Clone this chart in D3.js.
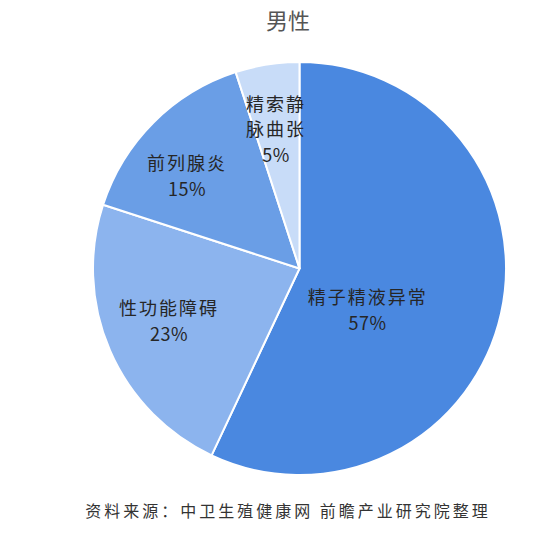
<!DOCTYPE html>
<html>
<head>
<meta charset="utf-8">
<script src="https://cdn.jsdelivr.net/npm/d3@7"></script>
<style>
  html, body { margin: 0; padding: 0; background: #fff; }
  svg { display: block; font-family: "Noto Sans CJK SC", "Noto Sans", sans-serif; }
</style>
</head>
<body>
<svg id="chart" width="557" height="543"></svg>
<script>
// Male infertility causes, share of cases
const categories = ["精子精液异常", "性功能障碍", "前列腺炎", "精索静脉曲张"];
const values = [57, 23, 15, 5];
const labelLines = [["精子精液异常"], ["性功能障碍"], ["前列腺炎"], ["精索静", "脉曲张"]];
const colors = ["#4a88e0", "#8cb4ee", "#6a9ee6", "#c8dcf8"];

const title = "男性";
const source = "资料来源：中卫生殖健康网 前瞻产业研究院整理";

// label block centres, in units of the pie radius from its centre
const labelAnchor = [[0.33, 0.197], [-0.632, 0.25], [-0.545, -0.453], [-0.114, -0.68]];

const svg = d3.select("#chart");
const cx = 299.5, cy = 268.5, r = 206.5;

svg.append("text")
  .attr("x", 288).attr("y", 19)
  .attr("text-anchor", "middle").attr("dominant-baseline", "central")
  .attr("font-size", 22).attr("fill", "#555")
  .text(title);

const pie = d3.pie().value(d => d).sort(null);
const arc = d3.arc().innerRadius(0).outerRadius(r);
const slices = pie(values);

const g = svg.append("g").attr("transform", `translate(${cx},${cy})`);

g.selectAll("path")
  .data(slices)
  .join("path")
  .attr("d", arc)
  .attr("fill", (d, i) => colors[i])
  .attr("stroke", "#fff")
  .attr("stroke-width", 2)
  .attr("stroke-linejoin", "round");

const lineH = 25.5;
slices.forEach((d, i) => {
  const lines = labelLines[i].concat([d.data + "%"]);
  const [fx, fy] = labelAnchor[i];
  const x = fx * r, y0 = fy * r - (lines.length - 1) * lineH / 2;
  const t = g.append("text")
    .attr("text-anchor", "middle")
    .attr("font-size", 18)
    .attr("fill", "#262626");
  lines.forEach((ln, k) => {
    t.append("tspan")
      .attr("x", x)
      .attr("y", y0 + k * lineH)
      .attr("dominant-baseline", "central")
      .attr("letter-spacing", k < lines.length - 1 ? 2 : 0.5)
      .text(ln);
  });
});

svg.append("text")
  .attr("x", 288).attr("y", 510)
  .attr("text-anchor", "middle").attr("dominant-baseline", "central")
  .attr("font-size", 16).attr("letter-spacing", 3)
  .attr("fill", "#333")
  .text(source);
</script>
</body>
</html>
